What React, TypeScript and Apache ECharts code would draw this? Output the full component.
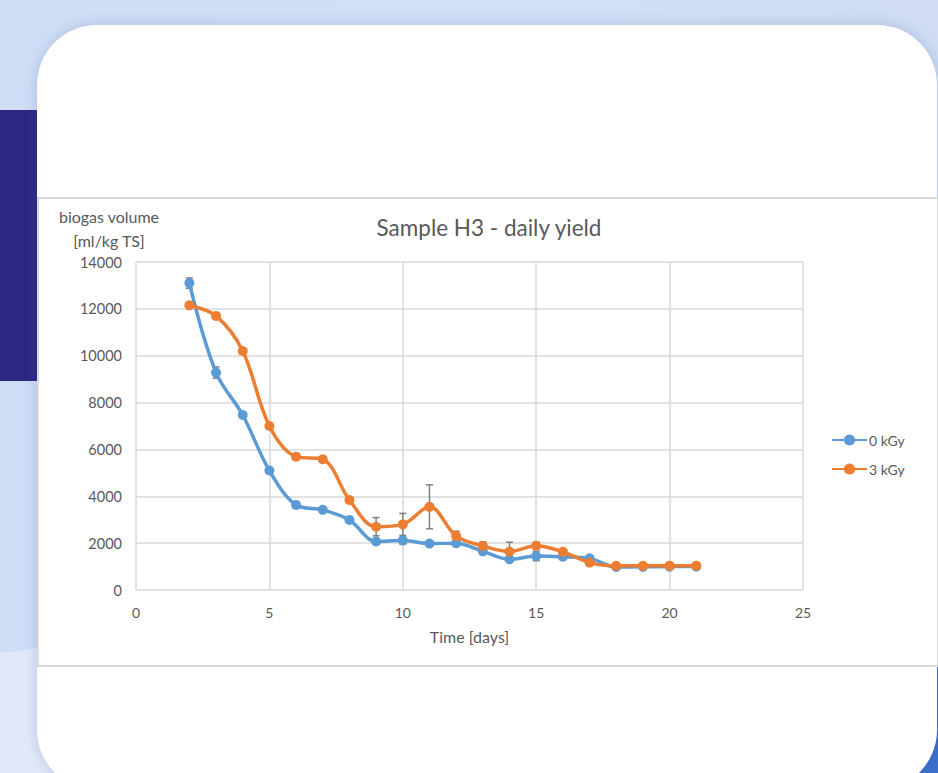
import React, { useEffect, useRef } from "react";
import * as echarts from "echarts";

// ---- data ----
const days = [2, 3, 4, 5, 6, 7, 8, 9, 10, 11, 12, 13, 14, 15, 16, 17, 18, 19, 20, 21];
const dose0kGy = [13100, 9280, 7470, 5100, 3630, 3420, 2990, 2070, 2110, 1980, 2000, 1650, 1310, 1450, 1420, 1350, 980, 990, 1000, 1000];
const dose3kGy = [12150, 11700, 10200, 7000, 5690, 5580, 3840, 2700, 2800, 3550, 2300, 1880, 1640, 1890, 1630, 1170, 1030, 1030, 1040, 1040];
const err0kGy = [220, 240, 100, 100, 80, 80, 80, 100, 150, 80, 80, 80, 80, 200, 80, 80, 50, 50, 50, 50];
const err3kGy = [100, 100, 100, 100, 100, 100, 100, 390, 470, 940, 210, 170, 400, 150, 120, 140, 50, 50, 50, 50];
const seriesNames = ["0 kGy", "3 kGy"];
const xMin = 0, xMax = 25, xStep = 5;
const yMin = 0, yMax = 14000, yStep = 2000;
const titleText = "Sample H3 - daily yield";
const yAxisTitle = "biogas volume\n[ml/kg TS]";
const xAxisTitle = "Time [days]";

const FONT = "Lato, 'Open Sans', sans-serif";
const TEXT = "#595959";
const GRID = "#d9d9d9";
const BLUE = "#5b9bd5";
const ORANGE = "#ed7d31";

function errorBarItem(params: any, api: any) {
  const x = api.value(0);
  const y = api.value(1);
  const e = api.value(2);
  const top = api.coord([x, y + e]);
  const bot = api.coord([x, y - e]);
  const hw = 3.5;
  const style = { stroke: "#7f7f7f", lineWidth: 1.5, fill: "none" };
  return {
    type: "group",
    children: [
      { type: "line", shape: { x1: top[0], y1: top[1], x2: bot[0], y2: bot[1] }, style },
      { type: "line", shape: { x1: top[0] - hw, y1: top[1], x2: top[0] + hw, y2: top[1] }, style },
      { type: "line", shape: { x1: bot[0] - hw, y1: bot[1], x2: bot[0] + hw, y2: bot[1] }, style },
    ],
  };
}

export default function App() {
  const ref = useRef<HTMLDivElement>(null);

  useEffect(() => {
    if (!ref.current) return;
    const chart = echarts.init(ref.current, undefined, { renderer: "svg" });
    const lineData0 = days.map((d, i) => [d, dose0kGy[i]]);
    const lineData3 = days.map((d, i) => [d, dose3kGy[i]]);
    const errData0 = days.map((d, i) => [d, dose0kGy[i], err0kGy[i]]);
    const errData3 = days.map((d, i) => [d, dose3kGy[i], err3kGy[i]]);

    chart.setOption({
      animation: false,
      backgroundColor: "transparent",
      textStyle: { fontFamily: FONT },
      title: {
        text: titleText,
        left: 484,
        top: 211,
        textAlign: "center",
        textStyle: { fontFamily: FONT, fontSize: 22.5, fontWeight: "normal", color: TEXT },
      },
      graphic: [
        {
          type: "text",
          x: 109,
          y: 204,
          style: {
            text: yAxisTitle,
            textAlign: "center",
            textVerticalAlign: "top",
            fontSize: 16,
            lineHeight: 24,
            fontFamily: FONT,
            fill: TEXT,
          },
        },
      ],
      legend: {
        orient: "vertical",
        left: 831,
        top: 433,
        padding: 0,
        itemWidth: 35,
        itemHeight: 14,
        itemGap: 15,
        data: seriesNames,
        textStyle: { fontFamily: FONT, fontSize: 14, color: TEXT, padding: [0, 0, 0, -3] },
      },
      grid: { left: 136, top: 262, width: 667, height: 328, containLabel: false },
      xAxis: {
        type: "value",
        min: xMin,
        max: xMax,
        interval: xStep,
        axisLine: { show: false },
        axisTick: { show: false },
        splitLine: { show: true, lineStyle: { color: GRID, width: 1.5 } },
        axisLabel: { color: TEXT, fontSize: 14, fontFamily: FONT, margin: 15 },
        name: xAxisTitle,
        nameLocation: "middle",
        nameGap: 38,
        nameTextStyle: { color: TEXT, fontSize: 16, fontFamily: FONT },
      },
      yAxis: {
        type: "value",
        min: yMin,
        max: yMax,
        interval: yStep,
        axisLine: { show: false },
        axisTick: { show: false },
        splitLine: { show: true, lineStyle: { color: GRID, width: 1.5 } },
        axisLabel: {
          color: TEXT,
          fontSize: 14.5,
          fontFamily: FONT,
          margin: 14,
          formatter: (v: number) => String(v),
        },
      },
      series: [
        {
          type: "custom",
          name: "err0",
          renderItem: errorBarItem,
          data: errData0,
          encode: { x: 0, y: 1 },
          z: 1,
          silent: true,
        },
        {
          type: "custom",
          name: "err3",
          renderItem: errorBarItem,
          data: errData3,
          encode: { x: 0, y: 1 },
          z: 1,
          silent: true,
        },
        {
          type: "line",
          name: seriesNames[0],
          data: lineData0,
          smooth: 0.35,
          symbol: "circle",
          symbolSize: 10,
          color: BLUE,
          lineStyle: { width: 3.5, color: BLUE },
          itemStyle: { color: BLUE },
          z: 3,
        },
        {
          type: "line",
          name: seriesNames[1],
          data: lineData3,
          smooth: 0.35,
          symbol: "circle",
          symbolSize: 10,
          color: ORANGE,
          lineStyle: { width: 3.5, color: ORANGE },
          itemStyle: { color: ORANGE },
          z: 4,
        },
      ],
    });
    return () => chart.dispose();
  }, []);

  return (
    <div
      style={{
        position: "fixed",
        left: 0,
        top: 0,
        width: 938,
        height: 773,
        overflow: "hidden",
        background: "linear-gradient(90deg, #cfdef6 0%, #d1e0f7 60%, #cfdcf3 100%)",
      }}
    >
      {/* lighter lower-left region */}
      <div
        style={{
          position: "absolute",
          left: 0,
          top: 600,
          width: 120,
          height: 173,
          background: "#e1e9f9",
          clipPath: "polygon(0 53px, 120px 38px, 120px 173px, 0 173px)",
        }}
      />
      {/* navy band */}
      <div style={{ position: "absolute", left: 0, top: 110, width: 40, height: 271, background: "#2e2782" }} />
      {/* blue bottom-right */}
      <div style={{ position: "absolute", left: 880, top: 667, width: 58, height: 106, background: "#3a70cc" }} />
      {/* white card */}
      <div
        style={{
          position: "absolute",
          left: 37,
          top: 25,
          width: 900,
          height: 765,
          background: "#ffffff",
          borderRadius: 60,
          boxShadow: "0 0 14px rgba(70,90,150,0.25)",
        }}
      />
      {/* chart panel */}
      <div
        style={{
          position: "absolute",
          left: 37,
          top: 197,
          width: 898,
          height: 466,
          background: "#ffffff",
          border: "2px solid #dcdcdc",
        }}
      />
      <div ref={ref} style={{ position: "absolute", left: 0, top: 0, width: 938, height: 773 }} />
    </div>
  );
}
